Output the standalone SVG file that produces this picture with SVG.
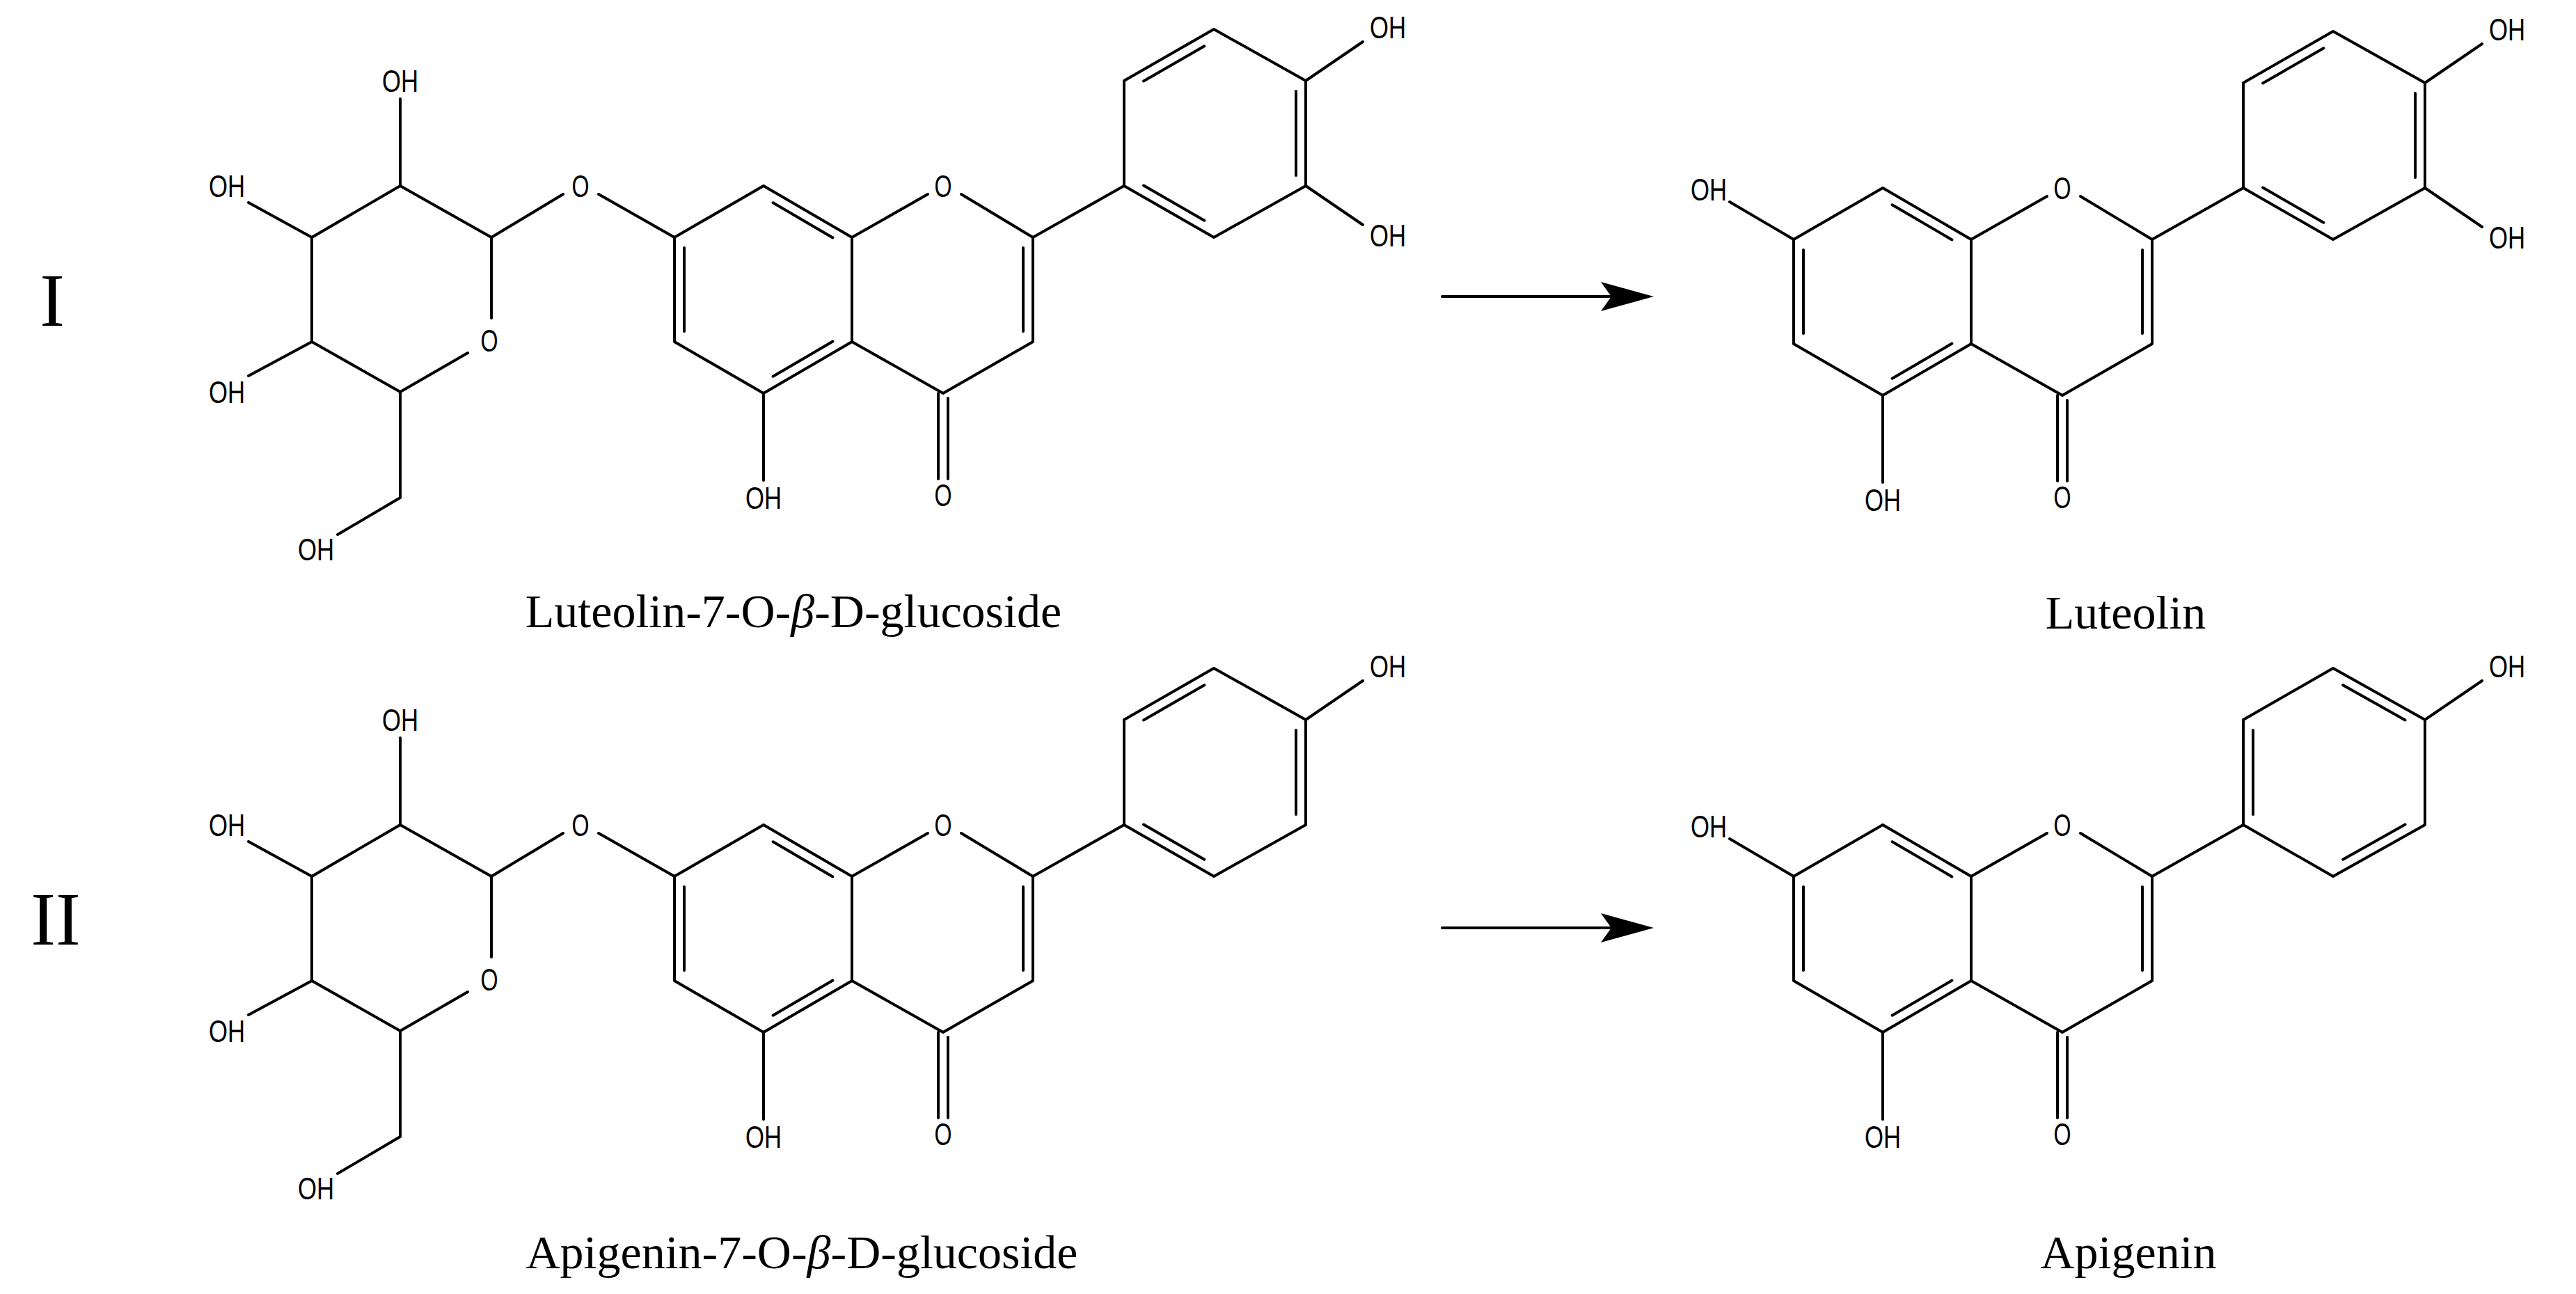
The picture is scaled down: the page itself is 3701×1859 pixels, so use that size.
<svg xmlns="http://www.w3.org/2000/svg" xmlns:xlink="http://www.w3.org/1999/xlink" width="3701" height="1859" viewBox="0 0 3701 1859">
<style>
.b{fill:none;stroke:#000;stroke-width:4;stroke-linecap:round;stroke-linejoin:round}
.a{font-family:"Liberation Sans",Arial,sans-serif;font-size:44px;fill:#000}
.n{font-family:"Liberation Serif","Times New Roman",serif;font-size:68px;fill:#000;text-anchor:middle}
.r{font-family:"Liberation Serif","Times New Roman",serif;font-size:107px;fill:#000;text-anchor:middle}
</style>
<defs>
<g id="core">
<path class="b" d="M969,341 L1097,267 L1224,341 L1224,491 L1097,565 L969,491 Z M1224,341 L1333,279 M1381,279 L1484,341 L1484,491 L1355,565 L1224,491 M1484,341 L1615,267 M1615,267 L1744,341 L1876,267 L1876,116 L1744,42 L1615,116 Z M1876,116 L1958,60 M1097,565 L1097,690 M1348,565 L1348,688 M1362,572 L1362,688 M1110.6,291.3 L1196.4,341.4 M983,356 L983,476 M1196.4,490.6 L1110.6,540.7 M1470,356 L1470,476"/>
<text class="a" x="1355" y="283" text-anchor="middle" textLength="25" lengthAdjust="spacingAndGlyphs">O</text>
<text class="a" x="1355" y="727" text-anchor="middle" textLength="25" lengthAdjust="spacingAndGlyphs">O</text>
<text class="a" x="1097" y="731" text-anchor="middle" textLength="52" lengthAdjust="spacingAndGlyphs">OH</text>
<text class="a" x="1968" y="55" textLength="52" lengthAdjust="spacingAndGlyphs">OH</text>
</g>
<path id="bLut" class="b" d="M1643.1,116.4 L1730.3,66.3 M1643.1,266.6 L1730.3,316.7 M1862,131 L1862,252"/>
<path id="bApi" class="b" d="M1758.2,66.3 L1847.5,116.4 M1629,131 L1629,252 M1758.2,316.7 L1847.5,266.6"/>
<g id="oh3">
<path class="b" d="M1876,267 L1958,323"/>
<text class="a" x="1968" y="354" textLength="52" lengthAdjust="spacingAndGlyphs">OH</text>
</g>
<g id="sugar">
<path class="b" d="M575,142 L575,267 L448,341 L448,491 L575,563 L672,507 M706,457 L706,341 L575,267 M357,291 L448,341 M357,540 L448,491 M575,563 L575,715 L485,768 M706,341 L809,279 M860,279 L969,341"/>
<text class="a" x="575" y="132" text-anchor="middle" textLength="52" lengthAdjust="spacingAndGlyphs">OH</text>
<text class="a" x="352" y="283" text-anchor="end" textLength="52" lengthAdjust="spacingAndGlyphs">OH</text>
<text class="a" x="352" y="579" text-anchor="end" textLength="52" lengthAdjust="spacingAndGlyphs">OH</text>
<text class="a" x="480" y="805" text-anchor="end" textLength="52" lengthAdjust="spacingAndGlyphs">OH</text>
<text class="a" x="703" y="505" text-anchor="middle" textLength="25" lengthAdjust="spacingAndGlyphs">O</text>
<text class="a" x="834" y="283" text-anchor="middle" textLength="25" lengthAdjust="spacingAndGlyphs">O</text>
</g>
<g id="oh7">
<path class="b" d="M969,341 L877,287"/>
<text class="a" x="873" y="285" text-anchor="end" textLength="52" lengthAdjust="spacingAndGlyphs">OH</text>
</g>
</defs>

<text class="r" x="75" y="468">I</text>
<text class="r" x="80" y="1357">II</text>

<g id="luteolin-glucoside">
<use xlink:href="#sugar"/><use xlink:href="#core"/><use xlink:href="#bLut"/><use xlink:href="#oh3"/>
<text class="n" x="1140" y="901">Luteolin-7-O-<tspan font-style="italic">β</tspan>-D-glucoside</text>
</g>
<g id="luteolin" transform="translate(1608,3)">
<use xlink:href="#oh7"/><use xlink:href="#core"/><use xlink:href="#bLut"/><use xlink:href="#oh3"/>
</g>
<text id="luteolin-label" class="n" x="3054" y="903">Luteolin</text>

<g id="apigenin-glucoside" transform="translate(0,918)">
<use xlink:href="#sugar"/><use xlink:href="#core"/><use xlink:href="#bLut"/>
</g>
<text id="apigenin-glucoside-label" class="n" x="1152" y="1822">Apigenin-7-O-<tspan font-style="italic">β</tspan>-D-glucoside</text>
<g id="apigenin" transform="translate(1608,918)">
<use xlink:href="#oh7"/><use xlink:href="#core"/><use xlink:href="#bApi"/>
</g>
<text id="apigenin-label" class="n" x="3058" y="1822">Apigenin</text>

<g id="connectors">
<line class="b" x1="2072" y1="426" x2="2320" y2="426"/>
<polygon points="2376,426 2300,405 2315,426 2300,447" fill="#000"/>
<line class="b" x1="2072" y1="1333" x2="2320" y2="1333"/>
<polygon points="2376,1333 2300,1312 2315,1333 2300,1354" fill="#000"/>
</g>
</svg>
